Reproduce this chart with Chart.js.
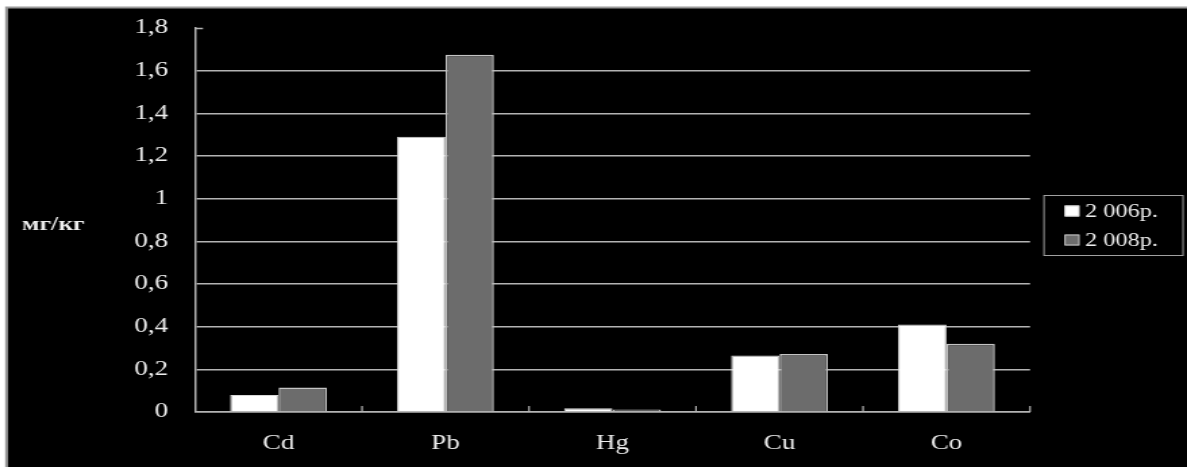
<!DOCTYPE html>
<html>
<head>
<meta charset="utf-8">
<script src="https://cdn.jsdelivr.net/npm/chart.js@4.4.1/dist/chart.umd.min.js"></script>
<style>
  html, body { margin: 0; padding: 0; background: #ffffff; overflow: hidden; }
  /* the drawing is laid out narrow and shown widened, so all lettering comes out wide */
  #wrap { width: 879px; height: 467px; transform-origin: 0 0; }
</style>
</head>
<body>
<div id="wrap"><canvas id="c" width="879" height="467"></canvas></div>
<script>
// Heavy metal content, mg/kg
const categories = ['Cd', 'Pb', 'Hg', 'Cu', 'Co'];
const seriesNames = ['2 006р.', '2 008р.'];
const values2006 = [0.08, 1.29, 0.018, 0.265, 0.41];
const values2008 = [0.115, 1.675, 0.012, 0.272, 0.32];
const yTickLabels = ['0', '0,2', '0,4', '0,6', '0,8', '1', '1,2', '1,4', '1,6', '1,8'];
const yTitle = 'мг/кг';

const SX = 1187 / 879;          // horizontal widening of the displayed canvas
const px = (v) => v / SX;       // page x -> canvas x
document.getElementById('wrap').style.transform = 'scale(' + SX + ', 1)';

const GRID = '#b4b4b4';
const TEXT = '#ededed';
const SERIF = '"Liberation Serif", "DejaVu Serif", serif';

// Page frame: white page, black panel with a thin grey outline
const framePlugin = {
  id: 'frame',
  beforeDraw(chart) {
    const ctx = chart.ctx;
    ctx.save();
    ctx.fillStyle = '#ffffff';
    ctx.fillRect(0, 0, chart.width, chart.height);
    ctx.fillStyle = '#000000';
    ctx.fillRect(px(7), 8, chart.width, chart.height);
    ctx.strokeStyle = '#9a9a9a';
    ctx.lineWidth = 2;
    ctx.beginPath();
    ctx.moveTo(px(6.5), chart.height + 5);
    ctx.lineTo(px(6.5), 7.5);
    ctx.lineTo(chart.width + 5, 7.5);
    ctx.stroke();
    ctx.restore();
  }
};

// Inward tick marks, the unrotated axis title and the boxed legend
const extrasPlugin = {
  id: 'extras',
  afterDatasetsDraw(chart) {
    const ctx = chart.ctx;
    const y = chart.scales.y;
    const area = chart.chartArea;
    ctx.save();
    ctx.strokeStyle = GRID;
    ctx.lineWidth = 1.5;
    // short tick at the top of the value axis
    const yTop = Math.round(y.getPixelForValue(1.8)) + 0.5;
    ctx.beginPath();
    ctx.moveTo(area.left, yTop);
    ctx.lineTo(area.left + px(8), yTop);
    ctx.stroke();
    // category boundary ticks pointing up from the base line
    ctx.lineWidth = 1.2;
    const n = categories.length;
    const step = (area.right - area.left) / n;
    for (let i = 1; i <= n; i++) {
      const x0 = area.left + step * i;
      ctx.beginPath();
      ctx.moveTo(x0, area.bottom);
      ctx.lineTo(x0, area.bottom - 6);
      ctx.stroke();
    }
    ctx.restore();
  },
  afterDraw(chart) {
    const ctx = chart.ctx;
    ctx.save();
    // axis title
    ctx.fillStyle = TEXT;
    ctx.font = 'bold 19px ' + SERIF;
    ctx.textAlign = 'left';
    ctx.textBaseline = 'middle';
    ctx.fillText(yTitle, px(22), 225);

    // legend
    const lx = px(1044), ly = 195.5, lw = px(139), lh = 60;
    ctx.strokeStyle = '#a0a0a0';
    ctx.lineWidth = 1;
    ctx.strokeRect(lx, ly, lw, lh);
    ctx.font = '18px ' + SERIF;
    ctx.textBaseline = 'middle';
    chart.data.datasets.forEach((ds, i) => {
      const cy = ly + 16 + i * 29;
      ctx.fillStyle = ds.backgroundColor;
      ctx.fillRect(px(1065), cy - 6, px(14), 11);
      ctx.strokeStyle = ds.borderColor;
      ctx.lineWidth = 1;
      ctx.strokeRect(px(1065), cy - 5.5, px(14), 10);
      ctx.fillStyle = TEXT;
      ctx.fillText(ds.label, px(1085), cy + 1);
    });
    ctx.restore();
  }
};

new Chart(document.getElementById('c'), {
  type: 'bar',
  data: {
    labels: categories,
    datasets: [
      {
        label: seriesNames[0],
        data: values2006,
        backgroundColor: '#ffffff',
        borderColor: '#d8d8d8',
        borderWidth: 1
      },
      {
        label: seriesNames[1],
        data: values2008,
        backgroundColor: '#6c6c6c',
        borderColor: '#c4c4c4',
        borderWidth: 1.5
      }
    ]
  },
  options: {
    responsive: false,
    animation: false,
    devicePixelRatio: 1,
    layout: { padding: { left: 0, right: 879 - px(1030), top: 28, bottom: 0 } },
    datasets: { bar: { categoryPercentage: 0.58, barPercentage: 1.0 } },
    plugins: {
      legend: { display: false },
      tooltip: { enabled: false }
    },
    scales: {
      x: {
        afterFit(scale) { scale.height = 55; },
        grid: { display: false, drawTicks: false },
        border: { display: true, color: GRID, width: 1.5 },
        ticks: {
          color: TEXT,
          padding: 20,
          font: { family: SERIF, size: 20 }
        }
      },
      y: {
        min: 0,
        max: 1.8,
        afterFit(scale) {
          scale.width = px(195);
          scale.paddingTop = 0;
          scale.paddingBottom = 0;
        },
        grid: {
          drawTicks: false,
          lineWidth: 1.5,
          color: (c) => (c.tick && c.tick.value >= 1.79) ? 'rgba(0,0,0,0)' : GRID
        },
        border: { display: true, color: GRID, width: 1.5 },
        ticks: {
          stepSize: 0.2,
          color: TEXT,
          padding: px(27),
          font: { family: SERIF, size: 20 },
          callback: (v, i) => yTickLabels[i]
        }
      }
    }
  },
  plugins: [framePlugin, extrasPlugin]
});
</script>
</body>
</html>
